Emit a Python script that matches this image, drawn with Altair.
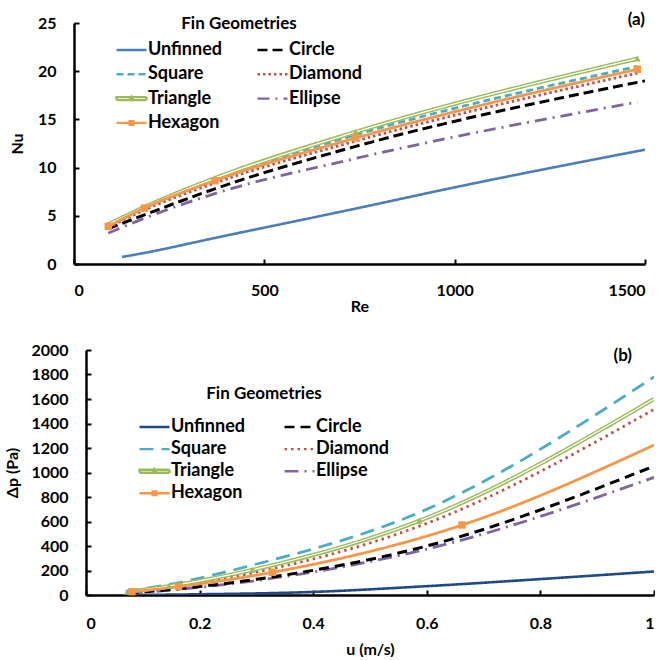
import altair as alt
import pandas as pd

SERIES = ["Unfinned", "Circle", "Square", "Diamond", "Triangle", "Ellipse", "Hexagon"]
# legend fills columns top-to-bottom: first column, then second column
LEG_ORDER = ["Unfinned", "Square", "Triangle", "Hexagon", "Circle", "Diamond", "Ellipse"]

# ---------- Panel (a): Nu vs Re ----------
re_unfinned = [126, 185, 370, 740, 1000, 1500]
nu_unfinned = [0.73, 1.15, 2.7, 5.75, 7.95, 11.86]
re_circle = [90, 185, 370, 740, 1500]
nu_circle = [3.65, 5.1, 7.8, 12.2, 19.0]
re_fins = [90, 185, 370, 740, 1480]
nu_square = [4.0, 5.85, 8.8, 13.4, 20.5]
nu_diamond = [3.8, 5.6, 8.4, 12.75, 19.8]
nu_triangle = [4.1, 5.9, 8.9, 13.7, 21.3]
nu_ellipse = [3.2, 4.75, 7.3, 10.95, 16.8]
nu_hexagon = [3.9, 5.8, 8.64, 13.07, 20.2]

re_ticks = [0, 500, 1000, 1500]
nu_ticks = [0, 5, 10, 15, 20, 25]

# ---------- Panel (b): pressure drop vs velocity ----------
u_unfinned = [0.08, 0.2, 0.4, 0.6, 0.8, 1.0]
dp_unfinned = [0, 6, 25, 72, 130, 192]
u_square = [0.07, 0.145, 0.29, 0.5875, 1.0]
dp_square = [30, 85, 240, 675, 1780]
u_tri = [0.073, 0.146, 0.293, 0.587, 1.0]
dp_triangle = [25, 72, 205, 606, 1600]
dp_diamond = [20, 65, 180, 562, 1515]
u_circle = [0.075, 0.15, 0.3, 0.6, 1.0]
dp_circle = [15, 45, 128, 400, 1052]
dp_ellipse = [12, 40, 118, 375, 960]
u_hex = [0.081, 0.163, 0.328, 0.662, 1.0]
dp_hexagon = [27, 68, 185, 571, 1224]

u_ticks = [0, 0.2, 0.4, 0.6, 0.8, 1.0]
dp_ticks = [0, 200, 400, 600, 800, 1000, 1200, 1400, 1600, 1800, 2000]

COLORS_A = ["#4A7EBB", "#000000", "#4BACC6", "#C0504D", "#9BBB59", "#8064A2", "#F79646"]
COLORS_B = ["#1F4A87", "#000000", "#4BACC6", "#C0504D", "#9BBB59", "#8064A2", "#F79646"]
DASH_A = [[1, 0], [10, 5], [7, 4], [2.5, 3], [1, 0], [12, 6, 2, 6], [1, 0]]
DASH_B = [[1, 0], [10, 6], [14, 8], [2.5, 4], [1, 0], [14, 6, 2, 6], [1, 0]]
WIDTHS = [2.6, 3.0, 2.8, 2.8, 4.2, 2.8, 2.8]
DRAW_ORDER = ["Unfinned", "Ellipse", "Circle", "Square", "Diamond", "Triangle", "Hexagon"]

# legend symbols (unit square paths)
LINE = "M-1,0H1"
TRI = ("M-1,-0.1H1V0.1H-1Z"
       "M-0.13,0.1L0,-0.13L0.13,0.1Z"
       "M-0.05,0.04L0,-0.04L0.05,0.04Z")
HEX = ("M-1,0H1"
       "M-0.12,-0.12H0.12V0.12H-0.12Z"
       "M-0.05,-0.05H0.05V0.05H-0.05Z")
LEG_SHAPES = [LINE, LINE, LINE, LINE, TRI, LINE, HEX]

FONT = "Lato"


def make_df(groups):
    rows = []
    for name, xs, ys, nmark in groups:
        for i, (a, b) in enumerate(zip(xs, ys)):
            rows.append({"series": name, "x": a, "y": b, "marker": i < nmark})
    return pd.DataFrame(rows)


df_a = make_df([
    ("Unfinned", re_unfinned, nu_unfinned, 0),
    ("Circle", re_circle, nu_circle, 0),
    ("Square", re_fins, nu_square, 0),
    ("Diamond", re_fins, nu_diamond, 0),
    ("Triangle", re_fins, nu_triangle, 5),
    ("Ellipse", re_fins, nu_ellipse, 0),
    ("Hexagon", re_fins, nu_hexagon, 5),
])

df_b = make_df([
    ("Unfinned", u_unfinned, dp_unfinned, 0),
    ("Circle", u_circle, dp_circle, 0),
    ("Square", u_square, dp_square, 0),
    ("Diamond", u_tri, dp_diamond, 0),
    ("Triangle", u_tri, dp_triangle, 4),
    ("Ellipse", u_circle, dp_ellipse, 0),
    ("Hexagon", u_hex, dp_hexagon, 4),
])


def reorder(values):
    return [values[SERIES.index(n)] for n in LEG_ORDER]


def panel(df, xdom, xrange, ydom, xvals, yvals, xtitle, ytitle, xfmt, yfmt, colors, dashes,
          w, h, yoff, xlabpad, xtitpad, ytitpad, legx, legy, rowpad, colpad, ttl_pad, title):
    xs = alt.Scale(domain=xdom, range=xrange, nice=False, zero=False)
    ys = alt.Scale(domain=ydom, nice=False)
    main_x = alt.Axis(values=xvals, title=xtitle, format=xfmt, ticks=False, tickSize=0,
                      labelPadding=xlabpad, titlePadding=xtitpad)
    main_y = alt.Axis(values=yvals, title=ytitle, format=yfmt, ticks=False, tickSize=0,
                      labelPadding=18, titlePadding=ytitpad, offset=yoff)
    tick_x = alt.Axis(values=xvals, orient="bottom", offset=-5, tickSize=5, ticks=True,
                      labels=False, domain=False, title=None, tickWidth=2)
    tick_y = alt.Axis(values=yvals, orient="left", offset=yoff - 5, tickSize=5, ticks=True,
                      labels=False, domain=False, title=None, tickWidth=2)

    def X(ax):
        return alt.X("x:Q", scale=xs, axis=ax)

    def Y(ax):
        return alt.Y("y:Q", scale=ys, axis=ax)

    base = alt.Chart(df)
    layers = []
    for k, name in enumerate(DRAW_ORDER):
        i = SERIES.index(name)
        ln = base.transform_filter(alt.datum.series == name).mark_line(
            interpolate="monotone", clip=True, color=colors[i], strokeDash=dashes[i],
            strokeWidth=WIDTHS[i],
        ).encode(x=X(main_x if k == 0 else None), y=Y(main_y if k == 0 else None))
        layers.append(ln)
        if name == "Triangle":
            layers.append(base.transform_filter(alt.datum.series == name).mark_line(
                interpolate="monotone", clip=True, color="white", strokeWidth=1.3
            ).encode(x=X(None), y=Y(None)))
    tri = base.transform_filter((alt.datum.series == "Triangle") & alt.datum.marker).mark_point(
        shape="triangle-up", filled=True, size=45, color=colors[4], opacity=1
    ).encode(x=X(tick_x), y=Y(tick_y))
    hexm = base.transform_filter((alt.datum.series == "Hexagon") & alt.datum.marker).mark_square(
        size=55, color=colors[6], opacity=1
    ).encode(x=X(None), y=Y(None))
    layers += [tri, hexm]

    leg = alt.Legend(
        title="Fin Geometries", orient="none", legendX=legx, legendY=legy, columns=2,
        columnPadding=colpad, rowPadding=rowpad, symbolSize=900, clipHeight=16,
        symbolStrokeWidth=2.4, labelOffset=0, labelFont=FONT, labelFontSize=18,
        labelFontWeight="bold", labelColor="black", titleFont=FONT, titleFontSize=17,
        titleFontWeight="bold", titleColor="black", titleAnchor="middle",
        titlePadding=ttl_pad, padding=0,
    )
    legdf = pd.DataFrame({"series": LEG_ORDER})
    legend_layer = alt.Chart(legdf).transform_filter("false").mark_point(
        filled=False, opacity=1, size=900, strokeWidth=2.4
    ).encode(
        color=alt.Color("series:N", scale=alt.Scale(domain=LEG_ORDER, range=reorder(colors)), legend=leg),
        shape=alt.Shape("series:N", scale=alt.Scale(domain=LEG_ORDER, range=reorder(LEG_SHAPES)), legend=leg),
        strokeDash=alt.StrokeDash("series:N", scale=alt.Scale(domain=LEG_ORDER, range=reorder(dashes)), legend=leg),
    )
    layers.append(legend_layer)
    return alt.layer(*layers).resolve_axis(
        x="independent", y="independent"
    ).properties(width=w, height=h, title=title)


top = panel(df_a, [0, 1500], [0, 571], [0, 25], re_ticks, nu_ticks, "Re", "Nu", "d", "d",
            COLORS_A, DASH_A, 571, 241, 0, 18, 0, 12, 41, -7, 6.3, 34, 9,
            alt.TitleParams("(a)", anchor="end", frame="group", font=FONT, fontSize=17,
                            fontWeight="bold", color="black", offset=0, dy=14))
bottom = panel(df_b, [0, 1], [12, 580], [0, 2000], u_ticks, dp_ticks, "u (m/s)", "Δp (Pa)", "~g", "d",
               COLORS_B, DASH_B, 580, 245, -12, 20, 10, 10, 64, 36, 4.1, 38, 16,
               alt.TitleParams("(b)", anchor="end", frame="group", font=FONT, fontSize=17,
                               fontWeight="bold", color="black", offset=0, dx=-22, dy=23))

chart = alt.vconcat(top, bottom, spacing=28).resolve_scale(
    color="independent", shape="independent", strokeDash="independent"
).resolve_legend(
    color="independent", shape="independent", strokeDash="independent"
).properties(
    padding={"left": 4, "top": 11, "right": 0, "bottom": 0}
).configure_axis(
    labelFont=FONT, labelFontSize=16, labelFontWeight="bold", labelColor="black",
    titleFont=FONT, titleFontSize=16, titleFontWeight="bold", titleColor="black",
    domainColor="black", domainWidth=2.5, tickColor="black", grid=False,
).configure_legend(
    labelFont=FONT, labelFontSize=18, labelFontWeight="bold", labelColor="black",
    titleFont=FONT, titleFontSize=17, titleFontWeight="bold", titleColor="black",
).configure_view(stroke=None)

chart.save("out.html", embed_options={"renderer": "svg", "actions": False})
